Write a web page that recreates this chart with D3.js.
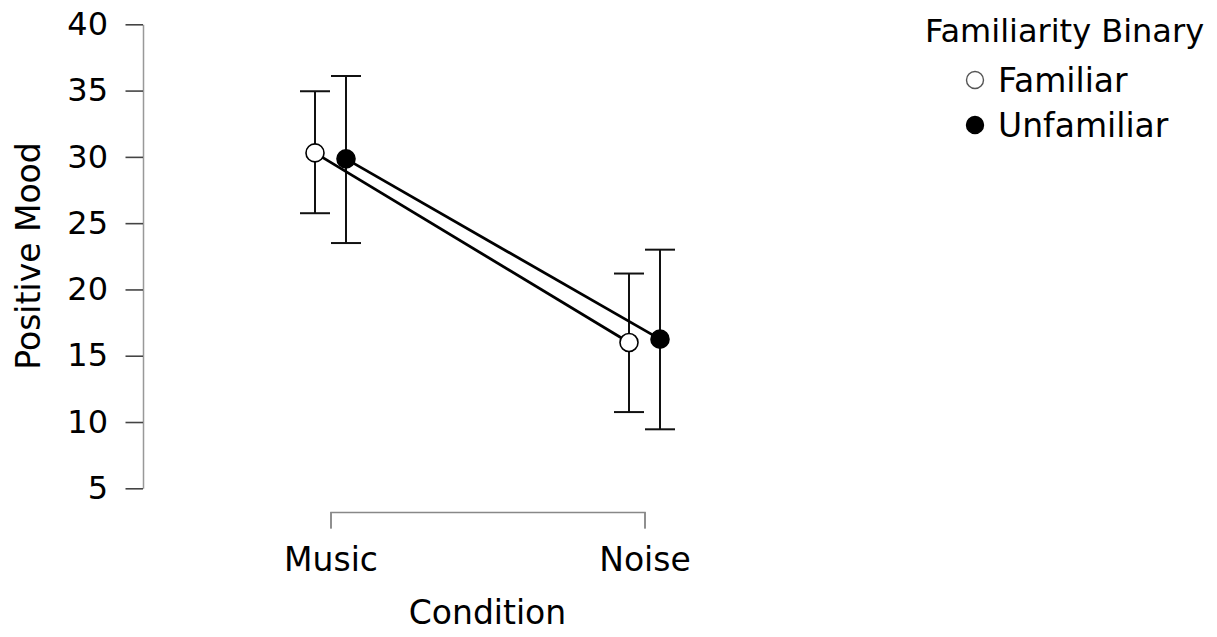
<!DOCTYPE html>
<html>
<head>
<meta charset="utf-8">
<script src="https://cdn.jsdelivr.net/npm/d3@7"></script>
<style>
  html, body { margin: 0; padding: 0; background: #fff; }
  svg { display: block; }
  text { font-family: "DejaVu Sans", sans-serif; fill: #000; }
</style>
</head>
<body>
<svg id="chart" width="1217" height="637"></svg>
<script>
// ---- data ----
const conditions = ["Music", "Noise"];
const groups = ["Familiar", "Unfamiliar"];
const familiarMean  = [30.3, 16.0];
const familiarLower = [25.75, 10.75];
const familiarUpper = [34.95, 21.2];
const unfamiliarMean  = [29.85, 16.25];
const unfamiliarLower = [23.5, 9.45];
const unfamiliarUpper = [36.1, 23.0];
const yTicks = [5, 10, 15, 20, 25, 30, 35, 40];
const xTitle = "Condition";
const yTitle = "Positive Mood";
const legendTitle = "Familiarity Binary";

const seriesData = [
  { name: groups[0], fill: "#fff", mean: familiarMean, lo: familiarLower, hi: familiarUpper },
  { name: groups[1], fill: "#000", mean: unfamiliarMean, lo: unfamiliarLower, hi: unfamiliarUpper }
];

// ---- layout ----
const svg = d3.select("#chart");
const yAxisX = 143;
const xAxisY = 512;
const fontSize = 32;
const labelSize = 33;

const x = d3.scalePoint().domain(conditions).range([330.5, 644.5]).padding(0);
const dodge = d3.scalePoint().domain(groups).range([-15.5, 15.5]);
const y = d3.scaleLinear().domain([5, 40]).range([488.3, 24.3]);

// y axis
const yAxis = svg.append("g")
  .attr("transform", `translate(${yAxisX},0)`)
  .call(d3.axisLeft(y).tickValues(yTicks).tickSize(17.5).tickSizeOuter(0).tickPadding(17.5));
yAxis.select(".domain").attr("stroke", "#999").attr("stroke-width", 1.5);
yAxis.selectAll(".tick line").attr("stroke", "#444").attr("stroke-width", 1.6);
yAxis.selectAll(".tick text").attr("font-size", fontSize).attr("font-family", "DejaVu Sans").attr("fill", "#000");

// x axis (bracket)
const xAxis = svg.append("g")
  .attr("transform", `translate(0,${xAxisY})`)
  .call(d3.axisBottom(x).tickSize(16.5).tickSizeOuter(16.5).tickPadding(19));
xAxis.select(".domain").attr("stroke", "#888").attr("stroke-width", 1.5);
xAxis.selectAll(".tick line").attr("stroke", "#888").attr("stroke-width", 1.5);
xAxis.selectAll(".tick text").attr("font-size", labelSize).attr("font-family", "DejaVu Sans").attr("fill", "#000");

// axis titles
svg.append("text")
  .attr("x", 487.5).attr("y", 624)
  .attr("text-anchor", "middle")
  .attr("font-size", labelSize)
  .text(xTitle);

svg.append("text")
  .attr("transform", `translate(40,256) rotate(-90)`)
  .attr("text-anchor", "middle")
  .attr("font-size", labelSize)
  .text(yTitle);

// error bars
const capHalf = 15;
seriesData.forEach(s => {
  const g = svg.append("g");
  conditions.forEach((c, i) => {
    const cx = x(c) + dodge(s.name);
    g.append("line").attr("x1", cx).attr("x2", cx).attr("y1", y(s.lo[i])).attr("y2", y(s.hi[i]))
      .attr("stroke", "#111").attr("stroke-width", 2);
    g.append("line").attr("x1", cx - capHalf).attr("x2", cx + capHalf).attr("y1", y(s.lo[i])).attr("y2", y(s.lo[i]))
      .attr("stroke", "#111").attr("stroke-width", 2);
    g.append("line").attr("x1", cx - capHalf).attr("x2", cx + capHalf).attr("y1", y(s.hi[i])).attr("y2", y(s.hi[i]))
      .attr("stroke", "#111").attr("stroke-width", 2);
  });
});

// lines
const line = d3.line();
seriesData.forEach(s => {
  const pts = conditions.map((c, i) => [x(c) + dodge(s.name), y(s.mean[i])]);
  svg.append("path").attr("d", line(pts)).attr("fill", "none")
    .attr("stroke", "#000").attr("stroke-width", 2.8);
});

// points
seriesData.forEach(s => {
  conditions.forEach((c, i) => {
    svg.append("circle")
      .attr("cx", x(c) + dodge(s.name))
      .attr("cy", y(s.mean[i]))
      .attr("r", 9)
      .attr("fill", s.fill)
      .attr("stroke", "#000")
      .attr("stroke-width", 1.6);
  });
});

// legend
svg.append("text").attr("x", 925).attr("y", 42).attr("font-size", fontSize).text(legendTitle);
const legendY = [80, 125];
seriesData.forEach((s, i) => {
  svg.append("circle").attr("cx", 975).attr("cy", legendY[i]).attr("r", 8.5)
    .attr("fill", s.fill).attr("stroke", s.fill === "#fff" ? "#555" : "#000").attr("stroke-width", 1.4);
  svg.append("text").attr("x", 998).attr("y", legendY[i] + 11.5).attr("font-size", labelSize).text(s.name);
});
</script>
</body>
</html>
